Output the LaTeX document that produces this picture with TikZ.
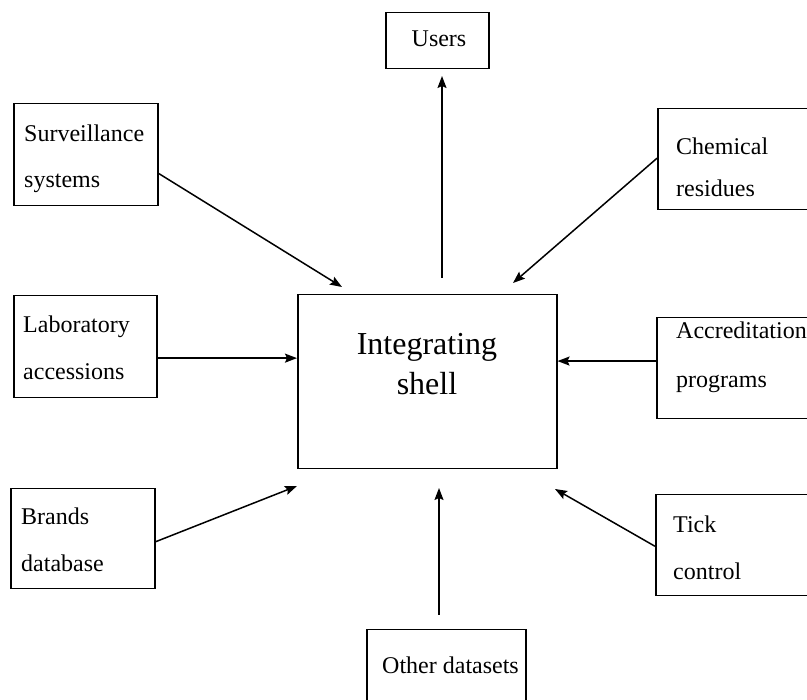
\documentclass[tikz,border=0pt]{standalone}
\usepackage{fontspec}
\setmainfont{Liberation Serif}
\usetikzlibrary{arrows.meta,calc}
\begin{document}
\begin{tikzpicture}[x=1pt,y=-1pt,
  box/.style={draw=black,line width=1.5pt,inner sep=0pt,anchor=north west,fill=none},
  lbl/.style={anchor=base west,inner sep=0pt,font=\fontsize{24}{28}\selectfont},
  big/.style={anchor=base,inner sep=0pt,font=\fontsize{32}{36}\selectfont},
  arr/.style={line width=1.5pt,-{Stealth[length=12pt,width=9pt,inset=2pt]}}]
\useasboundingbox (0,0) rectangle (807,700);
\clip (0,0) rectangle (807,700);
\fill[white] (0,0) rectangle (807,700);
% boxes
\node[box,minimum width=103pt,minimum height=56pt] (users) at (385,12) {};
\node[box,minimum width=144pt,minimum height=102pt] (surv) at (13,103) {};
\node[box,minimum width=160pt,minimum height=101pt] (chem) at (657,108) {};
\node[box,minimum width=143pt,minimum height=102pt] (lab) at (13,295) {};
\node[box,minimum width=160pt,minimum height=101pt] (accr) at (656,317) {};
\node[box,minimum width=259pt,minimum height=174pt] (shell) at (297,294) {};
\node[box,minimum width=144pt,minimum height=100pt] (brands) at (10,488) {};
\node[box,minimum width=160pt,minimum height=101pt] (tick) at (655,494) {};
\node[box,minimum width=159pt,minimum height=100pt] (other) at (366,629) {};
% texts
\node[lbl,anchor=base] (tusers) at (439,47) {Users};
\node[lbl] (tsurv1) at (24,142) {Surveillance};
\node[lbl] (tsurv2) at (24,188) {systems};
\node[lbl] (tchem1) at (676,155) {Chemical};
\node[lbl] (tchem2) at (676,197) {residues};
\node[lbl] (tlab1) at (23,333) {Laboratory};
\node[lbl] (tlab2) at (23,380) {accessions};
\node[lbl] (taccr1) at (676,339) {Accreditation};
\node[lbl] (taccr2) at (676,388) {programs};
\node[big] (tshell1) at (427,355) {Integrating};
\node[big] (tshell2) at (427,395) {shell};
\node[lbl] (tbr1) at (21,525) {Brands};
\node[lbl] (tbr2) at (21,572) {database};
\node[lbl] (ttick1) at (673,533) {Tick};
\node[lbl] (ttick2) at (673,580) {control};
\node[lbl] (tother) at (382,674) {Other datasets};
% free ends
\coordinate (usertail) at (442,278);
\coordinate (usertip) at (442,76);
\coordinate (survtip) at (342,287);
\coordinate (chemtip) at (513,283);
\coordinate (brtip) at (297,486);
\coordinate (othertail) at (439,615);
\coordinate (othertip) at (439,488);
\coordinate (ticktip) at (555,489);
% connectors
\draw[arr] (usertail) -- (usertip);
\draw[arr] ($(surv.north east)!0.68!(surv.south east)$) -- (survtip);
\draw[arr] ($(chem.north west)!0.49!(chem.south west)$) -- (chemtip);
\coordinate (labstart) at ($(lab.north east)!0.61!(lab.south east)$);
\draw[arr] (labstart) -- (labstart -| shell.west);
\coordinate (accrstart) at ($(accr.north west)!0.43!(accr.south west)$);
\draw[arr] (accrstart) -- (accrstart -| shell.east);
\draw[arr] ($(brands.north east)!0.53!(brands.south east)$) -- (brtip);
\draw[arr] ($(tick.north west)!0.51!(tick.south west)$) -- (ticktip);
\draw[arr] (othertail) -- (othertip);
\end{tikzpicture}
\end{document}
